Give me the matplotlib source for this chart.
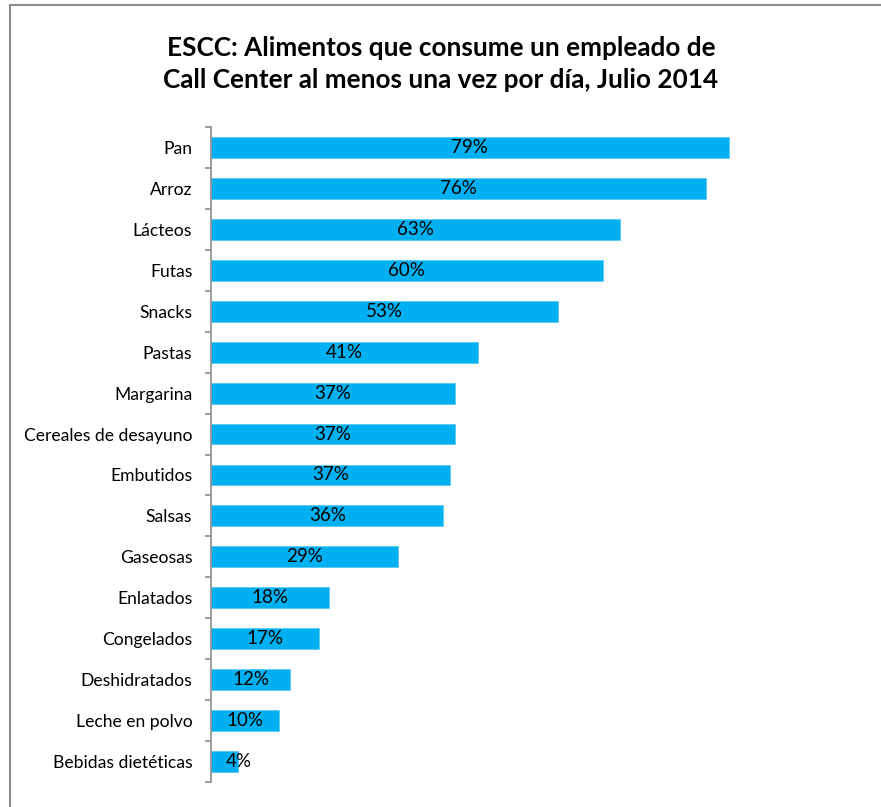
import matplotlib
matplotlib.use('Agg')
import matplotlib.pyplot as plt
from matplotlib.patches import Rectangle
import numpy as np

# Share of call center employees eating each food at least once a day (%)
foods = ['Pan', 'Arroz', 'Lácteos', 'Futas', 'Snacks', 'Pastas', 'Margarina',
         'Cereales de desayuno', 'Embutidos', 'Salsas', 'Gaseosas', 'Enlatados',
         'Congelados', 'Deshidratados', 'Leche en polvo', 'Bebidas dietéticas']
shares = [79.3, 75.8, 62.7, 60.0, 53.1, 40.9, 37.4,
          37.4, 36.6, 35.6, 28.6, 18.1,
          16.6, 12.1, 10.4, 4.2]

title = ('ESCC: Alimentos que consume un empleado de\n'
         'Call Center al menos una vez por día, Julio 2014')

plt.rcParams['font.family'] = ['Lato', 'DejaVu Sans']

W, H = 881, 807
fig = plt.figure(figsize=(W / 100, H / 100), dpi=100)

# chart area frame, only the left and top edges fall inside the image
fig.add_artist(Rectangle((10 / W, -0.05), 1.2, 1.05 - 5 / H,
                         transform=fig.transFigure, fill=False,
                         edgecolor='#8c8c8c', lw=1.5))

ax = fig.add_axes([211 / W, 25 / H, 653 / W, 655 / H])
y = np.arange(len(foods))
ax.barh(y, shares, height=0.51, color='#00b0f0', edgecolor='#5cc8f2', lw=0.6)

ax.set_ylim(len(foods) - 0.5, -0.5)
ax.set_xlim(0, 100)

for yi, v in zip(y, shares):
    xt = v / 2 if v > 8 else v
    ax.text(xt, yi, f'{v:.0f}%', ha='center', va='center', fontsize=13.5,
            color='black')

ax.set_yticks(y)
ax.set_yticklabels(foods, fontsize=12.6)
ax.tick_params(axis='y', which='major', length=0, pad=13.5)
ax.set_yticks(np.arange(-0.5, len(foods), 1.0), minor=True)
ax.tick_params(axis='y', which='minor', length=4, width=1.2, color='#8c8c8c',
               direction='out')
ax.set_xticks([])

for side in ('top', 'right', 'bottom'):
    ax.spines[side].set_visible(False)
ax.spines['left'].set_color('#8c8c8c')
ax.spines['left'].set_linewidth(1.2)

fig.text(441 / W, 1 - 64 / H, title, ha='center', va='center', fontsize=18.8,
         fontweight='bold', linespacing=1.4)

fig.savefig('out.png', dpi=100)
